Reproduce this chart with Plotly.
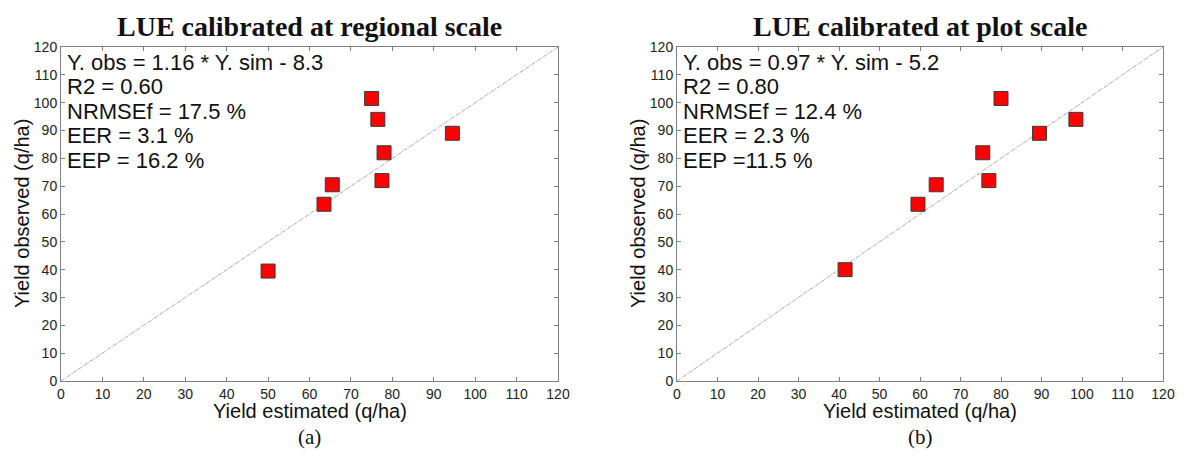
import plotly.graph_objects as go

# Data
reg_est = [50, 63.5, 65.5, 75, 76.5, 78, 77.5, 94.5]
reg_obs = [39.5, 63.5, 70.5, 101.5, 94, 82, 72, 89]
plot_est = [41.5, 59.5, 64, 75.5, 77, 80, 89.5, 98.5]
plot_obs = [40, 63.5, 70.5, 82, 72, 101.5, 89, 94]
line_1to1 = [0, 120]
ticks = list(range(0, 121, 10))

titles = ["LUE calibrated at regional scale", "LUE calibrated at plot scale"]
captions = ["(a)", "(b)"]
x_title = "Yield estimated (q/ha)"
y_title = "Yield observed (q/ha)"
stats = [
    ["Y. obs = 1.16 * Y. sim - 8.3", "R2 = 0.60", "NRMSEf = 17.5 %", "EER = 3.1 %", "EEP = 16.2 %"],
    ["Y. obs = 0.97 * Y. sim - 5.2", "R2 = 0.80", "NRMSEf = 12.4 %", "EER = 2.3 %", "EEP =11.5 %"],
]

# page body has an 8px margin: work in window pixels minus 8
OFF = 8
W, H = 1188 - OFF, 459 - OFF


def px(x):
    return (x - OFF) / W


def py(y):
    return 1 - (y - OFF) / H


xdoms = [[px(61), px(558)], [px(677), px(1163)]]
ydom = [py(381), py(47)]

fig = go.Figure()
for i, (xs, ys) in enumerate([(reg_est, reg_obs), (plot_est, plot_obs)]):
    sfx = "" if i == 0 else "2"
    fig.add_trace(go.Scatter(x=line_1to1, y=line_1to1, mode="lines",
                             line=dict(color="#a8a8a8", width=1, dash="4px,1px,1px,1px"),
                             xaxis="x" + sfx, yaxis="y" + sfx, showlegend=False, hoverinfo="skip"))
    fig.add_trace(go.Scatter(x=xs, y=ys, mode="markers",
                             marker=dict(symbol="square", size=14, color="#ff0000",
                                         line=dict(color="#3a3a3a", width=1)),
                             xaxis="x" + sfx, yaxis="y" + sfx, showlegend=False))

axis_common = dict(range=[0, 120], tickvals=ticks, ticks="inside", ticklen=4,
                   tickcolor="#808080", showline=True, linecolor="#808080", linewidth=1,
                   mirror="ticks", showgrid=False, zeroline=False, automargin=False,
                   tickfont=dict(family="Liberation Sans", size=14, color="#222"))

layout = dict(width=W, height=H, margin=dict(l=0, r=0, t=0, b=0),
              plot_bgcolor="white", paper_bgcolor="white", annotations=[])
for i in range(2):
    sfx = "" if i == 0 else "2"
    layout["xaxis" + sfx] = dict(axis_common, domain=xdoms[i], anchor="y" + sfx)
    layout["yaxis" + sfx] = dict(axis_common, domain=ydom, anchor="x" + sfx)
    cx = (xdoms[i][0] + xdoms[i][1]) / 2
    ann = layout["annotations"]
    ann.append(dict(text="<b>" + titles[i] + "</b>", x=cx, y=py(27),
                    xref="paper", yref="paper", showarrow=False, xanchor="center", yanchor="middle",
                    font=dict(family="Liberation Serif", size=28, color="#111")))
    ann.append(dict(text=captions[i], x=cx, y=py(437),
                    xref="paper", yref="paper", showarrow=False, xanchor="center", yanchor="middle",
                    font=dict(family="Liberation Serif", size=21, color="#111")))
    ann.append(dict(text=x_title, x=cx, y=py(411),
                    xref="paper", yref="paper", showarrow=False, xanchor="center", yanchor="middle",
                    font=dict(family="Liberation Sans", size=20, color="#111")))
    ann.append(dict(text=y_title, x=xdoms[i][0] - 39 / W, y=(ydom[0] + ydom[1]) / 2,
                    xref="paper", yref="paper", showarrow=False, textangle=-90,
                    xanchor="center", yanchor="middle",
                    font=dict(family="Liberation Sans", size=20, color="#111")))
    for j, s in enumerate(stats[i]):
        ann.append(dict(text=s, x=xdoms[i][0] + 4 / W, y=py(62 + 24.5 * j),
                        xref="paper", yref="paper", xanchor="left", yanchor="middle",
                        showarrow=False,
                        font=dict(family="Liberation Sans", size=22, color="#111")))

fig.update_layout(**layout)
fig.write_html("out.html")
